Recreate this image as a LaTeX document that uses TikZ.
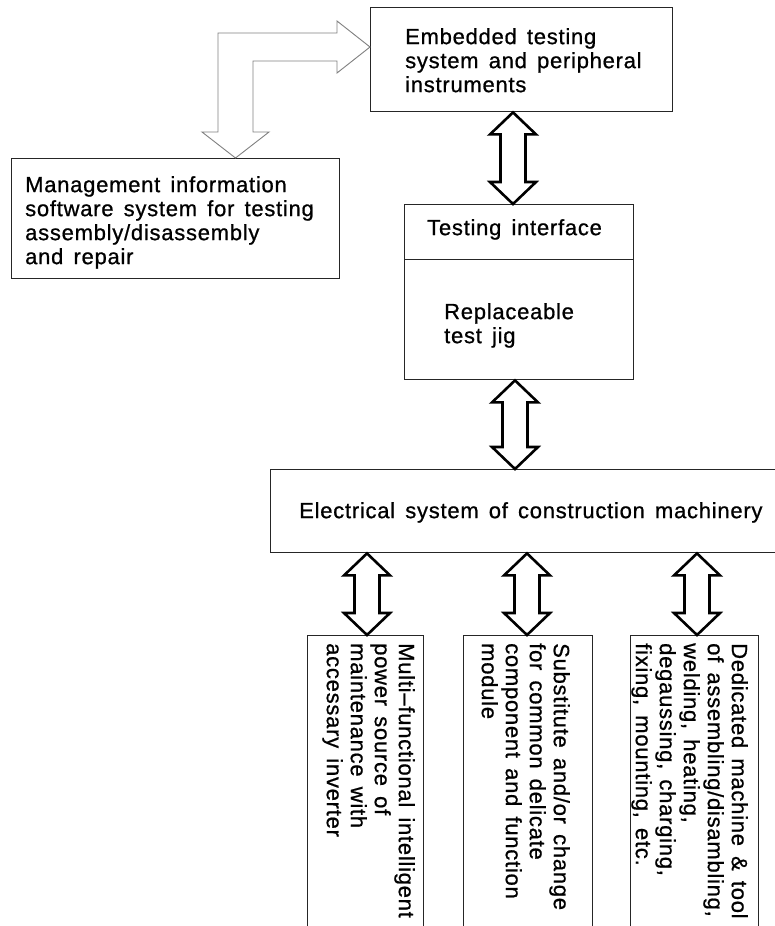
\documentclass[tikz,border=0pt]{standalone}
\usepackage{fontspec}
\setmainfont{Liberation Sans}[LetterSpace=3.4,FakeBold=0.8]
\usetikzlibrary{calc}
\newcommand\fs{\fontsize{22}{24}\selectfont\spaceskip=0.46em plus 0.1em\relax}
\newcommand\dblarr[2]{\draw[dbl] let \p1=(#1), \p2=(#2) in
 (\x1,\y1) -- (\x1+23pt,\y1-22pt) -- (\x1+12.5pt,\y1-22pt) -- (\x1+12.5pt,\y2+22pt)
 -- (\x1+23pt,\y2+22pt) -- (\x1,\y2) -- (\x1-23pt,\y2+22pt) -- (\x1-12.5pt,\y2+22pt)
 -- (\x1-12.5pt,\y1-22pt) -- (\x1-23pt,\y1-22pt) -- cycle;}
\begin{document}
\begin{tikzpicture}[x=1pt,y=-1pt,
  box/.style={draw=black!85, line width=1.4pt, inner sep=0pt, anchor=north west},
  txt/.style={inner sep=0pt, anchor=north west, align=left, font=\fs},
  dbl/.style={draw=black, line width=2.6pt, fill=white, line join=miter},
  hol/.style={draw=black!50, line width=0.9pt}]
\useasboundingbox[fill=white] (0,0) rectangle (774,926);

% boxes
\node[box, minimum width=302pt, minimum height=104pt] (emb) at (370,7) {};
\node[box, minimum width=328pt, minimum height=120pt] (mgmt) at (11,158) {};
\node[box, minimum width=229pt, minimum height=55pt] (ti) at (404,204) {};
\node[box, minimum width=229pt, minimum height=120pt] (jig) at (404,259) {};
\node[box, minimum width=530pt, minimum height=83pt] (elec) at (270,469) {};
\node[box, minimum width=116pt, minimum height=310pt] (b1) at (307,635) {};
\node[box, minimum width=129pt, minimum height=310pt] (b2) at (463,635) {};
\node[box, minimum width=128pt, minimum height=310pt] (b3) at (630,635) {};

% texts
\node[txt] (embT) at (405,28) {Embedded testing\\system and peripheral\\instruments};
\node[txt] (mgmtT) at (25,176) {Management information\\software system for testing\\assembly/disassembly\\and repair};
\node[txt] (tiT) at (427,219) {Testing interface};
\node[txt] (jigT) at (444,303) {Replaceable\\test jig};
\node[txt] (elecT) at (299,502) {Electrical system of construction machinery};
\node[txt, rotate=-90] (b1T) at (415,643) {Multi–functional intelligent\\power source of\\maintenance with\\accessary inverter};
\node[txt, rotate=-90] (b2T) at (570,643) {Substitute and/or change\\for common delicate\\component and function\\module};
\node[txt, rotate=-90] (b3T) at (748,643) {Dedicated machine \& tool\\of assembling/disambling,\\welding, heating,\\degaussing, charging,\\fixing, mounting, etc.};

% hollow L-shaped arrow
\coordinate (h1) at ($(emb.north west)+(0,40)$);
\coordinate (h2) at ($(mgmt.north west)+(224.5,0)$);
\draw[hol] let \p1=(h1), \p2=(h2) in (\x1,\y1) -- (\x1-33pt,\y1+26pt) -- (\x1-33pt,\y1+14pt)
  -- (\x2-17.5pt,\y1+14pt) -- (\x2-17.5pt,\y2+26pt) -- (\x2-33.5pt,\y2+26pt) -- (\x2,\y2)
  -- (\x2+33.5pt,\y2+26pt) -- (\x2+17.5pt,\y2+26pt) -- (\x2+17.5pt,\y1-14pt)
  -- (\x1-33pt,\y1-14pt) -- (\x1-33pt,\y1-26pt) -- cycle;

% double arrows
\coordinate (a1) at ($(emb.south west)+(143,0)$);
\coordinate (a2) at ($(ti.north west)+(109,0)$);
\coordinate (c1) at ($(jig.south west)+(111,0)$);
\coordinate (c2) at ($(elec.north west)+(245,0)$);
\coordinate (d1) at ($(elec.south west)+(97,0)$);
\coordinate (d2) at ($(b1.north west)+(60,0)$);
\coordinate (e1) at ($(elec.south west)+(257,0)$);
\coordinate (e2) at ($(b2.north west)+(64,0)$);
\coordinate (f1) at ($(elec.south west)+(427,0)$);
\coordinate (f2) at ($(b3.north west)+(67,0)$);
\dblarr{a1}{a2}
\dblarr{c1}{c2}
\dblarr{d1}{d2}
\dblarr{e1}{e2}
\dblarr{f1}{f2}
\end{tikzpicture}
\end{document}
